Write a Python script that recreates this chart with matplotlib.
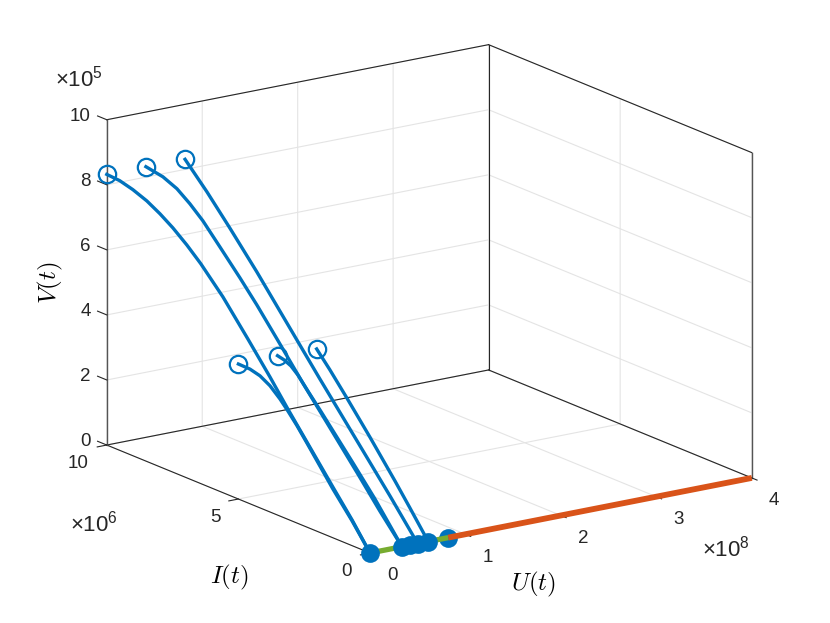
import matplotlib
matplotlib.use('Agg')
import matplotlib.pyplot as plt
from mpl_toolkits.mplot3d import proj3d

plt.rcParams['font.family'] = ['Liberation Sans', 'DejaVu Sans']
plt.rcParams['mathtext.fontset'] = 'custom'
plt.rcParams['mathtext.rm'] = 'Liberation Sans'
plt.rcParams['grid.color'] = '#e4e4e4'
plt.rcParams['grid.linewidth'] = 0.8

# values in units of 1e8 (U), 1e6 (I), 1e5 (V)
i_t1 = [10, 9.51, 9.01, 8.48, 7.98, 7.49, 6.96, 6.43, 5.59, 4.64, 3.80, 3.12, 2.40, 1.41, 0.68, 0]
v_t1 = [8.32, 8.29, 8.18, 8.01, 7.78, 7.51, 7.16, 6.76, 6.02, 5.04, 4.15, 3.39, 2.62, 1.56, 0.79, 0]
u_t1 = [0] * len(i_t1)

i_l1 = [5, 4.56, 4.18, 3.80, 3.42, 3.12, 2.78, 2.40, 1.41, 0.68, 0]
v_l1 = [4.15, 4.14, 4.06, 3.88, 3.60, 3.33, 3.00, 2.59, 1.50, 0.76, 0]
u_l1 = [0] * len(i_l1)

u_t2 = [0.41, 0.395, 0.39, 0.385, 0.38, 0.38, 0.375, 0.37, 0.365, 0.36, 0.35, 0.345, 0.34, 0.335]
i_t2 = [10, 9.30, 8.75, 8.24, 7.73, 7.08, 6.30, 5.64, 4.86, 3.86, 2.79, 1.71, 0.86, 0]
v_t2 = [8.32, 8.25, 8.07, 7.78, 7.43, 6.84, 6.15, 5.54, 4.76, 3.74, 2.72, 1.66, 0.81, 0]

u_l2 = [0.41, 0.395, 0.39, 0.385, 0.38, 0.375, 0.36, 0.35, 0.335]
i_l2 = [5, 4.70, 4.42, 4.14, 3.74, 3.26, 1.95, 1.08, 0]
v_l2 = [4.17, 4.15, 4.06, 3.88, 3.52, 3.10, 1.91, 1.10, 0]

u_t3 = [0.82, 0.79, 0.756, 0.70, 0.64, 0.60, 0.56, 0.53, 0.50]
i_t3 = [10, 9.06, 8.07, 6.84, 5.10, 4.08, 2.41, 1.16, 0]
v_t3 = [8.31, 7.64, 6.88, 5.97, 4.49, 3.65, 2.17, 1.06, 0]

u_l3 = [0.82, 0.79, 0.75, 0.71, 0.66, 0.63, 0.61]
i_l3 = [5, 4.39, 3.60, 2.58, 1.44, 0.77, 0]
v_l3 = [4.14, 3.72, 3.14, 2.30, 1.35, 0.77, 0]

u_end = [0, 0.335, 0.42, 0.50, 0.61, 0.82]
u_green = [0, 0.82]
u_orange = [0.82, 4]

u_ticks = [0, 1, 2, 3, 4]
i_ticks = [0, 5, 10]
v_ticks = [0, 2, 4, 6, 8, 10]

BLUE = '#0072BD'
ORANGE = '#D95319'
GREEN = '#77AC30'
DARK = '#262626'
W, H = 830, 623

fig = plt.figure(figsize=(W / 100, H / 100), dpi=100)
ax = fig.add_axes([0, 0, 1, 1], projection='3d', proj_type='ortho', computed_zorder=False)
ax.view_init(elev=16.5, azim=-124.7)
zoom = 1.0
ax.set_box_aspect((464, 462, 339), zoom=zoom)
ax.set_xlim(0, 4)
ax.set_ylim(0, 10)
ax.set_zlim(0, 10)
ax.set_xticks(u_ticks)
ax.set_yticks(i_ticks)
ax.set_zticks(v_ticks)
ax.set_xticklabels([])
ax.set_yticklabels([])
ax.set_zticklabels([])
for axis in (ax.xaxis, ax.yaxis, ax.zaxis):
    axis.set_pane_color((1, 1, 1, 0))
    axis.pane.set_edgecolor('none')
    axis.line.set_color('none')
    axis._axinfo['tick']['inward_factor'] = 0
    axis._axinfo['tick']['outward_factor'] = 0
ax.tick_params(colors='none')


def to_px(u, i, v):
    x, y, _ = proj3d.proj_transform(u, i, v, ax.get_proj())
    px, py = ax.transData.transform((x, y))
    return px, H - py


# fit the box onto the reference corners
for _ in range(3):
    fig.canvas.draw()
    x0, y0 = to_px(0, 10, 0)
    x1, y1 = to_px(4, 0, 0)
    zoom *= (752 - 107) / (x1 - x0)
    ax.set_box_aspect((464, 462, 339), zoom=zoom)
    fig.canvas.draw()
    x0, y0 = to_px(0, 0, 0)
    pos = ax.get_position(original=True)
    ax.set_position([pos.x0 + (370 - x0) / W, pos.y0 - (553 - y0) / H, pos.width, pos.height])
fig.canvas.draw()


def edge(a, b, lw=0.8, color=DARK):
    ax.plot([a[0], b[0]], [a[1], b[1]], [a[2], b[2]], color=color, lw=lw, zorder=2, clip_on=False)


# box
edge((0, 10, 0), (4, 10, 0))
edge((4, 10, 0), (4, 0, 0))
edge((0, 10, 0), (0, 0, 0))
edge((0, 0, 0), (4, 0, 0))
edge((0, 10, 10), (4, 10, 10))
edge((4, 10, 10), (4, 0, 10))
edge((0, 10, 0), (0, 10, 10), color='#555555', lw=1.0)
edge((4, 10, 0), (4, 10, 10))
edge((4, 0, 0), (4, 0, 10), color='#555555', lw=1.0)

# tick marks
for v in v_ticks:
    edge((0, 10, v), (0, 10.35, v))
for i in i_ticks:
    edge((0, i, 0), (-0.1, i, 0))
for u in u_ticks:
    edge((u, 0, 0), (u, -0.2, 0))

# trajectories
trajectories = [(u_t1, i_t1, v_t1), (u_t2, i_t2, v_t2), (u_t3, i_t3, v_t3),
                (u_l1, i_l1, v_l1), (u_l2, i_l2, v_l2), (u_l3, i_l3, v_l3)]
for u, i, v in trajectories:
    ax.plot(u, i, v, color=BLUE, lw=2.4, zorder=5, clip_on=False)
    ax.plot(u[:1], i[:1], v[:1], 'o', mfc='none', mec=BLUE, mew=1.6, ms=12.5, zorder=6, clip_on=False)

ax.plot(u_green, [0, 0], [0, 0], color=GREEN, lw=3.8, solid_capstyle='butt', zorder=4, clip_on=False)
ax.plot(u_orange, [0, 0], [0, 0], color=ORANGE, lw=4.2, solid_capstyle='butt', zorder=4, clip_on=False)
for ue in u_end:
    ax.plot([ue], [0], [0], 'o', color=BLUE, ms=13.5, mew=0, zorder=3 if ue == u_end[-1] else 6, clip_on=False)


def label(px, py, s, **kw):
    kw.setdefault('color', DARK)
    kw.setdefault('fontsize', 13.5)
    kw.setdefault('va', 'center')
    kw.setdefault('ha', 'center')
    fig.text(px / W, 1 - py / H, s, **kw)


for v in v_ticks:
    px, py = to_px(0, 10, v)
    label(px - 16, py - 3.5, str(v), ha='right')
for i in i_ticks:
    px, py = to_px(0, i, 0)
    label(px - 18, py + 18, str(i), ha='right')
for u in u_ticks:
    px, py = to_px(u, 0, 0)
    label(px + 22, py + 23, str(u))

label(79, 79, r'$\times\mathrm{10}^{5}$', fontsize=16)
label(94, 524, r'$\times\mathrm{10}^{6}$', fontsize=16)
label(726, 549, r'$\times\mathrm{10}^{8}$', fontsize=16)

label(229, 577, r'$I(t)$', fontsize=18, math_fontfamily='cm', color='black')
label(534, 584, r'$U(t)$', fontsize=18, math_fontfamily='cm', color='black')
label(50, 283, r'$V(t)$', fontsize=18, math_fontfamily='cm', color='black', rotation=90)

fig.savefig('out.png', dpi=100)
